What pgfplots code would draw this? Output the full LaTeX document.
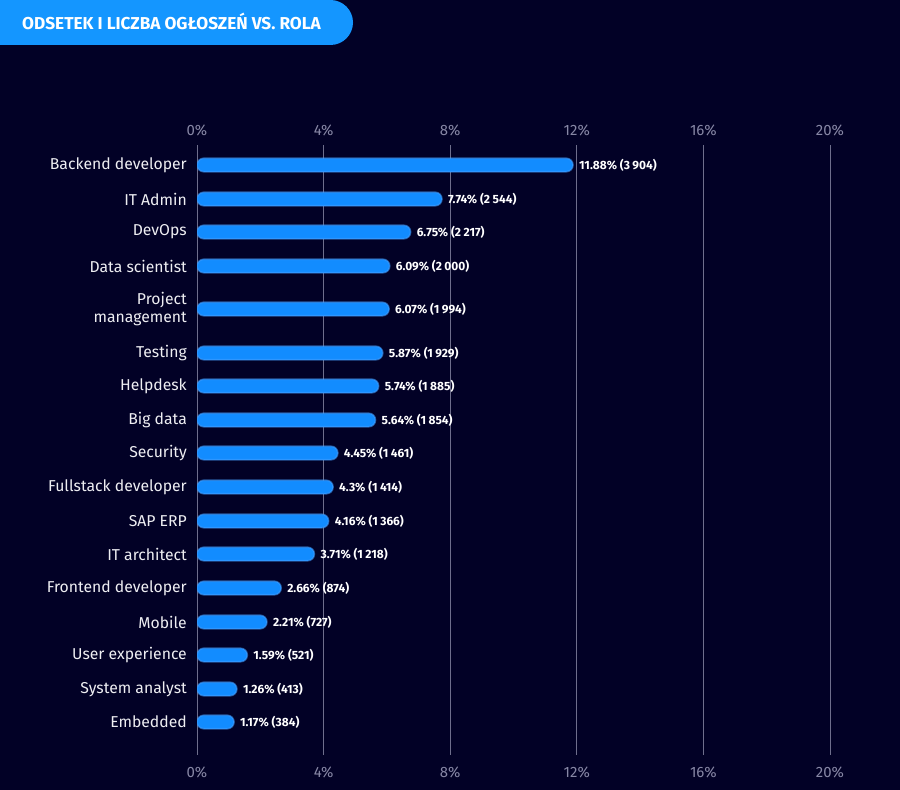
\documentclass[border=0pt]{standalone}
\usepackage{pgfplots}
\pgfplotsset{compat=1.18}
\usepackage{fontspec}
\setmainfont{Fira Sans}
\definecolor{bg}{RGB}{2,1,38}
\definecolor{badge}{RGB}{20,150,255}
\definecolor{barc}{RGB}{18,140,255}
\definecolor{barglow}{RGB}{70,160,255}
\definecolor{gridc}{RGB}{110,110,140}
\definecolor{tickc}{RGB}{135,135,165}
\definecolor{labc}{RGB}{238,238,242}
\begin{document}
\begin{tikzpicture}
\path[use as bounding box, fill=bg] (0bp,0bp) rectangle (900bp,790bp);
\fill[badge, rounded corners=22.5bp] (-40bp,745bp) rectangle (353bp,790bp);
\fill[badge] (-40bp,760bp) rectangle (330bp,790bp);
\node[anchor=west, text=white, inner sep=0pt, font=\bfseries\fontsize{17.3}{20}\selectfont] at (22bp,768.5bp) {ODSETEK I LICZBA OGŁOSZEŃ VS. ROLA};
\begin{axis}[
  at={(197bp,35bp)}, anchor=south west, scale only axis,
  width=633bp, height=610bp,
  xmin=0, xmax=20, ymin=145, ymax=755, y dir=reverse,
  axis line style={draw=none}, major tick length=0pt,
  xtick={0,4,8,12,16,20},
  xticklabels={0\%,4\%,8\%,12\%,16\%,20\%},
  xticklabel style={text=tickc, font=\fontsize{15}{18}\selectfont, inner sep=0pt, yshift=-12bp},
  xmajorgrids, grid style={gridc, line width=0.8bp},
  ytick={165,199,232,266,309,353,386,420,453,487,521,554,588,622,655,689,722},
  yticklabels={Backend developer,IT Admin,DevOps,Data scientist,{Project\\management},Testing,Helpdesk,Big data,Security,Fullstack developer,SAP ERP,IT architect,Frontend developer,Mobile,User experience,System analyst,Embedded},
  yticklabel style={text=labc, font=\fontsize{15.8}{19}\selectfont, align=right, inner sep=0pt, xshift=-10bp},
  xbar, bar width=13.5,
  point meta=explicit symbolic,
  nodes near coords,
  nodes near coords style={text=white, font=\bfseries\fontsize{12}{13}\selectfont, anchor=west, xshift=2bp},
]
\addplot[fill=barc, draw=barglow, draw opacity=0.55, line width=1.6bp, rounded corners=6.7bp] coordinates {
(11.88,165) [11.88\% (3\kern2.5pt904)]
(7.74,199) [7.74\% (2\kern2.5pt544)]
(6.75,232) [6.75\% (2\kern2.5pt217)]
(6.09,266) [6.09\% (2\kern2.5pt000)]
(6.07,309) [6.07\% (1\kern2.5pt994)]
(5.87,353) [5.87\% (1\kern2.5pt929)]
(5.74,386) [5.74\% (1\kern2.5pt885)]
(5.64,420) [5.64\% (1\kern2.5pt854)]
(4.45,453) [4.45\% (1\kern2.5pt461)]
(4.3,487) [4.3\% (1\kern2.5pt414)]
(4.16,521) [4.16\% (1\kern2.5pt366)]
(3.71,554) [3.71\% (1\kern2.5pt218)]
(2.66,588) [2.66\% (874)]
(2.21,622) [2.21\% (727)]
(1.59,655) [1.59\% (521)]
(1.26,689) [1.26\% (413)]
(1.17,722) [1.17\% (384)]
};
\end{axis}
\begin{axis}[
  at={(197bp,35bp)}, anchor=south west, scale only axis,
  width=633bp, height=610bp,
  xmin=0, xmax=20, ymin=0, ymax=1,
  axis x line*=top, hide y axis,
  axis line style={draw=none}, major tick length=0pt,
  xtick={0,4,8,12,16,20},
  xticklabels={0\%,4\%,8\%,12\%,16\%,20\%},
  xticklabel style={text=tickc, font=\fontsize{15}{18}\selectfont, inner sep=0pt, yshift=9bp},
]
\addplot[draw=none] coordinates {(0,0)};
\end{axis}
\end{tikzpicture}
\end{document}
